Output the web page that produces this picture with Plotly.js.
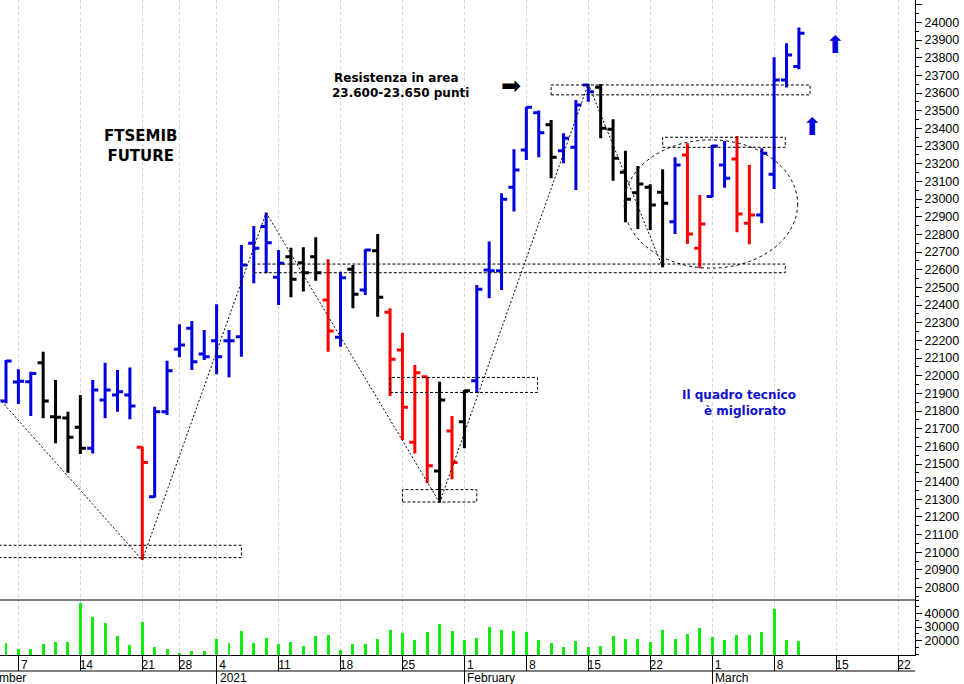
<!DOCTYPE html>
<html><head><meta charset="utf-8">
<script src="https://cdn.plot.ly/plotly-3.0.1.min.js"></script>
<style>html,body{margin:0;padding:0;background:#fff}#chart{width:964px;height:684px}</style>
</head><body><div id="chart"></div>
<script>
// trading sessions (the last ones, after Mar 10, are empty future sessions on the axis)
const sessions = [
 '2020-12-04','2020-12-07','2020-12-08','2020-12-09','2020-12-10','2020-12-11',
 '2020-12-14','2020-12-15','2020-12-16','2020-12-17','2020-12-18',
 '2020-12-21','2020-12-22','2020-12-23','2020-12-28','2020-12-29','2020-12-30',
 '2021-01-04','2021-01-05','2021-01-06','2021-01-07','2021-01-08',
 '2021-01-11','2021-01-12','2021-01-13','2021-01-14','2021-01-15',
 '2021-01-18','2021-01-19','2021-01-20','2021-01-21','2021-01-22',
 '2021-01-25','2021-01-26','2021-01-27','2021-01-28','2021-01-29',
 '2021-02-01','2021-02-02','2021-02-03','2021-02-04','2021-02-05',
 '2021-02-08','2021-02-09','2021-02-10','2021-02-11','2021-02-12',
 '2021-02-15','2021-02-16','2021-02-17','2021-02-18','2021-02-19',
 '2021-02-22','2021-02-23','2021-02-24','2021-02-25','2021-02-26',
 '2021-03-01','2021-03-02','2021-03-03','2021-03-04','2021-03-05',
 '2021-03-08','2021-03-09','2021-03-10','2021-03-11','2021-03-12',
 '2021-03-15','2021-03-16','2021-03-17','2021-03-18','2021-03-19','2021-03-22'
];
const opens  = [21856,21964,21966,22073,21768,21760,21708,21589,21862,21890,21890,21595,21315,21796,22149,22268,22123,22198,22198,22221,22750,22844,22557,22674,22640,22674,22429,22217,22602,22485,22708,22359,22146,21623,21994,21460,21687,21739,21972,22598,22594,23067,23278,23489,23420,23274,23293,23646,23633,23395,23152,23036,23067,23038,22872,23250,22721,23014,23193,23227,22863,22910,23140,23674,23750];
const highs  = [22089,22036,22022,22136,21975,21796,21891,21975,22073,22032,22047,21598,21824,22085,22291,22310,22259,22404,22259,22740,22848,22923,22712,22725,22727,22784,22659,22589,22627,22716,22802,22382,22243,22060,21994,21966,21772,21919,22513,22759,23033,23282,23523,23501,23448,23373,23561,23652,23652,23452,23274,23187,23084,23169,23237,23316,23023,23306,23329,23357,23193,23287,23803,23882,23971];
const lows   = [21844,21840,21772,21759,21617,21451,21556,21560,21759,21796,21753,20956,21311,21777,22104,22032,22089,22008,21991,22107,22523,22580,22400,22444,22476,22538,22136,22164,22382,22457,22334,21885,21636,21560,21391,21281,21413,21589,21904,22438,22485,22929,23221,23237,23118,23203,23051,23551,23344,23104,22869,22831,22825,22614,22802,22746,22608,23010,23064,22812,22744,22863,23057,23631,23735];
const closes = [22083,21968,22013,21857,21764,21651,21589,21919,21919,21909,21828,21509,21796,22028,22174,22079,22107,22107,22198,22627,22721,22753,22636,22546,22583,22583,22253,22555,22461,22712,22444,22093,21821,22017,21490,21862,21509,21915,22489,22594,22999,23165,23520,23376,23237,23344,23533,23608,23401,23231,22999,23085,22966,22976,23193,22802,22859,23301,23118,22916,22910,23259,23674,23816,23939];
// bar colour code: B blue, R red, K black
const barColor = ['B','B','B','K','K','K','K','B','B','B','B','R','B','B','B','B','B','B','B','B','B','B','B','K','K','K','R','B','K','B','K','R','R','R','R','K','R','K','B','B','B','B','B','B','K','B','B','B','K','K','K','K','K','K','B','R','R','B','B','R','R','B','B','B','B'];
const volumes = [17900,13500,13900,17200,18700,18900,48000,37200,32700,23300,16400,33700,15400,13500,10700,12000,12200,21100,18100,27000,18100,21900,17400,18700,15900,23600,24100,13000,17200,17200,21100,27800,25800,20400,26500,32400,27000,20400,21900,30000,27800,27000,26300,20400,17900,15400,19400,15400,15900,23600,21300,21300,18700,27800,21300,24800,29300,22600,20100,24100,24300,26300,43300,20100,19400];
const monthNames = ['January','February','March','April','May','June','July','August','September','October','November','December'];
// swing points joined by the dotted trend line: [session, price]
const swingDates  = ['2020-12-03','2020-12-21','2021-01-08','2021-01-28','2021-02-15','2021-02-23'];
const swingPrices = [21905, 20956, 22923, 21281, 23652, 22614];

const colorMap = {B:'#0000e0', R:'#ff0000', K:'#000000'};
const idx = sessions.map((d,i)=>i);
const nBars = opens.length;
function sessionIndex(d){ const i = sessions.indexOf(d); return i>=0 ? i : -1; }

const traces = [];
['B','R','K'].forEach(code=>{
  const xs=[],o=[],h=[],l=[],c=[];
  for(let i=0;i<nBars;i++){ if(barColor[i]===code){xs.push(i);o.push(opens[i]);h.push(highs[i]);l.push(lows[i]);c.push(closes[i]);} }
  traces.push({type:'ohlc',x:xs,open:o,high:h,low:l,close:c,xaxis:'x',yaxis:'y',
    increasing:{line:{color:colorMap[code],width:3}},decreasing:{line:{color:colorMap[code],width:3}},
    tickwidth:0.45,hoverinfo:'skip',showlegend:false});
});
traces.push({type:'bar',x:idx.slice(0,nBars),y:volumes,xaxis:'x',yaxis:'y2',width:0.24,
  marker:{color:'#10ee10',line:{width:0}},hoverinfo:'skip',showlegend:false,base:0});

// ticks: Mondays and month starts
const dayTicks=[],dayText=[],monthTicks=[],monthText=[];
sessions.forEach((d,i)=>{
  const dt=new Date(d+'T00:00:00Z');
  if(dt.getUTCDay()===1){dayTicks.push(i);dayText.push(String(dt.getUTCDate()));}
  if(i>0){const p=new Date(sessions[i-1]+'T00:00:00Z'); if(p.getUTCMonth()!==dt.getUTCMonth()){monthTicks.push(i); monthText.push(dt.getUTCMonth()===0?String(dt.getUTCFullYear()):monthNames[dt.getUTCMonth()]);}}
});

const W=915, H=655;
const px=v=>v/W, py=v=>1-v/H;
const font='"Liberation Sans", Arial, sans-serif';
const boldFont='"DejaVu Sans", Verdana, sans-serif';

const shapes=[];
// dotted swing line
const sx = swingDates.map(d=>sessionIndex(d));
for(let k=0;k<sx.length-1;k++){
  shapes.push({type:'line',xref:'x',yref:'y',x0:sx[k],y0:swingPrices[k],x1:sx[k+1],y1:swingPrices[k+1],line:{color:'#000',width:1,dash:'2px,2px'}});
}
// dashed boxes [x0,x1,y0,y1]
const boxes=[[-0.6,19,20970,21040],[32,38,21285,21355],[31,42.9,21905,21990],[20,62.9,22583,22632],[44,64.9,23590,23646],[53,62.9,23293,23350]];
boxes.forEach(b=>shapes.push({type:'rect',xref:'x',yref:'y',x0:b[0],x1:b[1],y0:b[2],y1:b[3],line:{color:'#000',width:1,dash:'3px,2px'}}));
shapes.push({type:'circle',xref:'x',yref:'y',x0:49.9,x1:63.9,y0:22609,y1:23335,line:{color:'#000',width:1,dash:'3px,3px'}});
// panel separator & lower date row line
shapes.push({type:'line',xref:'paper',yref:'paper',x0:0,x1:1,y0:py(600),y1:py(600),line:{color:'#000',width:1}});
shapes.push({type:'line',xref:'paper',yref:'paper',x0:0,x1:1,y0:py(671),y1:py(671),line:{color:'#000',width:1}});

const annotations=[
 {text:'<b>FTSEMIB<br>FUTURE</b>',x:px(140),y:py(146),font:{size:15,color:'#000',family:boldFont}},
 {text:'<b>Resistenza in area</b>',x:px(396),y:py(78),font:{size:12,color:'#000',family:boldFont}},
 {text:'<b>23.600-23.650 punti</b>',x:px(400),y:py(93),font:{size:12,color:'#000',family:boldFont}},
 {text:'➡',x:px(511),y:py(86),font:{size:24,color:'#000',family:'DejaVu Sans'}},
 {text:'<b>Il quadro tecnico</b>',x:px(739),y:py(395),font:{size:12,color:'#1010cc',family:boldFont}},
 {text:'<b>è migliorato</b>',x:px(745),y:py(411),font:{size:12,color:'#1010cc',family:boldFont}},
 {text:'⬆',x:px(835),y:py(45),font:{size:24,color:'#0000e0',family:'DejaVu Sans'}},
 {text:'⬆',x:px(812),y:py(127),font:{size:24,color:'#0000e0',family:'DejaVu Sans'}},
 {text:'December',x:px(28),y:py(678),xanchor:'right',font:{size:12,color:'#000',family:font}}
];
monthTicks.forEach((t,k)=>annotations.push({text:monthText[k],xref:'x',x:t,y:py(678),xanchor:'left',xshift:1,font:{size:12,color:'#000',family:font}}));
annotations.forEach(a=>{a.showarrow=false; if(!a.xref)a.xref='paper'; a.yref='paper'; if(!a.yanchor)a.yanchor='middle'; if(!a.xanchor)a.xanchor='center';});

const layout={
  width:964,height:684,margin:{l:0,r:49,t:0,b:29},paper_bgcolor:'#fff',plot_bgcolor:'#fff',
  showlegend:false,bargap:0,shapes,annotations,
  font:{family:font,size:12,color:'#000'},
  xaxis:{range:[-0.484,73.37],anchor:'y2',tickmode:'array',tickvals:dayTicks,ticktext:dayText,
    ticks:'outside',ticklen:15,tickcolor:'#000',tickwidth:1,showline:true,linecolor:'#000',linewidth:1,
    showgrid:true,gridcolor:'#cdd2e0',griddash:'3px,3px',gridwidth:1,zeroline:false,
    ticklabelshift:6,ticklabelstandoff:-16,tickfont:{size:12,family:font,color:'#000'},rangeslider:{visible:false},fixedrange:true},
  xaxis2:{overlaying:'x',matches:'x',anchor:'y2',side:'bottom',tickmode:'array',tickvals:monthTicks,ticktext:monthTicks.map(()=>''),
    ticks:'outside',ticklen:29,tickcolor:'#000',showgrid:false,zeroline:false,showline:false},
  yaxis:{domain:[55/655,1],range:[20730,24127],side:'right',dtick:100,tick0:0,tickformat:'d',ticks:'outside',ticklen:6,tickcolor:'#000',
    showline:true,linecolor:'#000',showgrid:false,zeroline:false,ticklabeloverflow:'hide past domain',
    minor:{dtick:50,ticks:'outside',ticklen:3,tickcolor:'#000'},
    tickfont:{size:12.5,family:font,color:'#000'},fixedrange:true},
  yaxis2:{domain:[0,55/655],range:[9260,50000],side:'right',tickvals:[20000,30000,40000],tickformat:'d',ticks:'outside',ticklen:6,tickcolor:'#000',
    showline:true,linecolor:'#000',showgrid:false,zeroline:false,ticklabeloverflow:'hide past domain',
    minor:{dtick:5000,ticks:'outside',ticklen:3,tickcolor:'#000'},
    tickfont:{size:12.5,family:font,color:'#000'},fixedrange:true}
};
// invisible trace to activate xaxis2
traces.push({type:'scatter',x:[0],y:[null],xaxis:'x2',yaxis:'y2',hoverinfo:'skip',showlegend:false});
Plotly.newPlot('chart',traces,layout,{displayModeBar:false,staticPlot:true});
</script></body></html>
